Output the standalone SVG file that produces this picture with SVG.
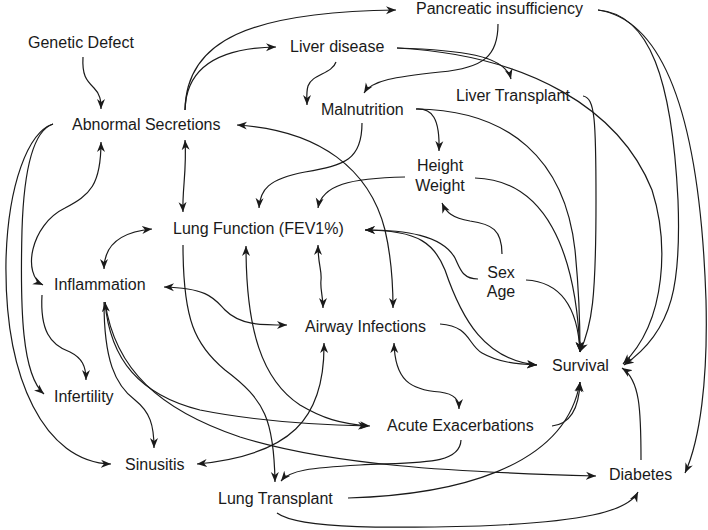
<svg xmlns="http://www.w3.org/2000/svg" width="708" height="530" viewBox="0 0 708 530">
<style>
.t{font-family:"Liberation Sans",Arial,Helvetica,sans-serif;font-size:16px;fill:#1a1a1a}
.m{text-anchor:middle}
.c path{fill:none;stroke:#1a1a1a;stroke-width:1.2;marker-end:url(#ah)}
.c path.d{marker-start:url(#ah)}
</style>
<defs>
<marker id="ah" markerUnits="userSpaceOnUse" markerWidth="11" markerHeight="9" refX="10" refY="4.5" orient="auto-start-reverse" viewBox="0 0 11 9">
<path d="M0,0.5 L10,4.5 L0,8.5 L3,4.5 z" fill="#1a1a1a"/>
</marker>
</defs>
<rect width="708" height="530" fill="#fff"/>
<g class="c" id="connectors">
<path d="M83,57 C82,75 86,80 94,88 C100,94 101,100 101,109"/>
<path d="M185,110 C186,70 215,48 276,47"/>
<path d="M185,110 C186,40 250,12 396,10"/>
<path d="M498,24 C498,55 485,68 440,72 C395,77 372,80 364,93"/>
<path d="M397,48 C460,50 505,55 511,79"/>
<path d="M397,48 C530,55 620,110 652,190 C668,240 668,320 623,364"/>
<path d="M336,62 C332,74 312,74 308,86 C306,93 307,99 307,105"/>
<path d="M416,109 C432,108 440,118 439,151"/>
<path d="M416,109 C510,110 565,160 575,250 C579,290 580,320 580,352"/>
<path d="M362,123 C362,160 345,165 305,172 C268,179 260,190 259,208"/>
<path d="M405,177 C350,178 322,185 318,208"/>
<path d="M475,178 C545,180 576,250 580,352"/>
<path d="M583,96 C595,98 596,120 596,200 C596,300 592,325 580,352"/>
<path d="M502,254 C502,230 492,224 470,221 C452,218 446,212 442,203"/>
<path d="M478,279 C462,279 460,268 455,258 C442,235 405,230 365,230"/>
<path d="M526,280 C562,282 578,310 580,352"/>
<path class="d" d="M365,230 C420,230 435,245 445,270 C462,320 485,360 537,365"/>
<path d="M440,324 C470,326 468,345 482,353 C498,362 515,364 537,365"/>
<path d="M552,426 C570,424 579,410 580,382"/>
<path d="M348,498 C450,495 565,470 580,382"/>
<path d="M277,513 C300,530 400,528 480,526 C580,522 628,512 638,492"/>
<path d="M641,460 C641,410 640,380 622,368"/>
<path class="d" d="M394,343 C395,380 410,390 440,392 C455,394 459,400 459,409"/>
<path class="d" d="M185,140 C187,170 182,190 183,212"/>
<path class="d" d="M318,245 C318,265 322,270 321,280 C320,290 323,295 323,308"/>
<path class="d" d="M237,125 C320,130 370,170 385,230 C392,260 393,285 393,308"/>
<path class="d" d="M246,246 C246,330 262,380 300,405 C322,418 340,424 370,426"/>
<path d="M183,245 C183,320 195,345 225,370 C265,400 274,420 275,482"/>
<path d="M461,440 C460,465 420,462 360,465 C310,468 290,470 281,481"/>
<path class="d" d="M324,343 C325,420 290,455 197,464"/>
<path class="d" d="M104,269 C104,245 120,232 152,229"/>
<path class="d" d="M164,287 C210,288 215,300 225,310 C240,325 260,325 287,325"/>
<path class="d" d="M101,142 C101,185 90,195 65,208 C30,225 22,275 43,285"/>
<path d="M42,295 C40,330 50,345 70,352 C82,358 86,366 86,380"/>
<path d="M53,124 C35,130 24,165 22,230 C20,310 22,375 44,394"/>
<path d="M53,124 C28,132 8,185 6,260 C4,380 45,462 111,464"/>
<path d="M104,302 C104,360 115,385 135,400 C150,412 154,425 154,448"/>
<path class="d" d="M105,302 C110,360 140,395 200,410 C260,422 320,425 368,426"/>
<path d="M105,302 C115,370 160,410 240,437 C330,465 450,472 596,476"/>
<path d="M598,10 C650,14 672,80 678,200 C681,280 675,330 624,365"/>
<path d="M598,10 C665,20 700,120 706,300 C708,380 700,440 685,473"/>
</g>
<g id="genetic-defect"><text class="t" x="28" y="48">Genetic Defect</text></g>
<g id="abnormal-secretions"><text class="t" x="72" y="130">Abnormal Secretions</text></g>
<g id="pancreatic-insufficiency"><text class="t" x="416" y="14">Pancreatic insufficiency</text></g>
<g id="liver-disease"><text class="t" x="290" y="52">Liver disease</text></g>
<g id="malnutrition"><text class="t" x="321" y="115">Malnutrition</text></g>
<g id="liver-transplant"><text class="t" x="456" y="101">Liver Transplant</text></g>
<g id="height-weight"><text class="t m" x="440" y="171">Height</text><text class="t m" x="440" y="191">Weight</text></g>
<g id="lung-function"><text class="t" x="173" y="234">Lung Function (FEV1%)</text></g>
<g id="inflammation"><text class="t" x="54" y="290">Inflammation</text></g>
<g id="airway-infections"><text class="t" x="305" y="332">Airway Infections</text></g>
<g id="sex-age"><text class="t m" x="501" y="278">Sex</text><text class="t m" x="501" y="297">Age</text></g>
<g id="survival"><text class="t" x="552" y="371">Survival</text></g>
<g id="infertility"><text class="t" x="54" y="402">Infertility</text></g>
<g id="acute-exacerbations"><text class="t" x="387" y="431">Acute Exacerbations</text></g>
<g id="sinusitis"><text class="t" x="125" y="470">Sinusitis</text></g>
<g id="lung-transplant"><text class="t" x="218" y="504">Lung Transplant</text></g>
<g id="diabetes"><text class="t" x="609" y="480">Diabetes</text></g>
</svg>
